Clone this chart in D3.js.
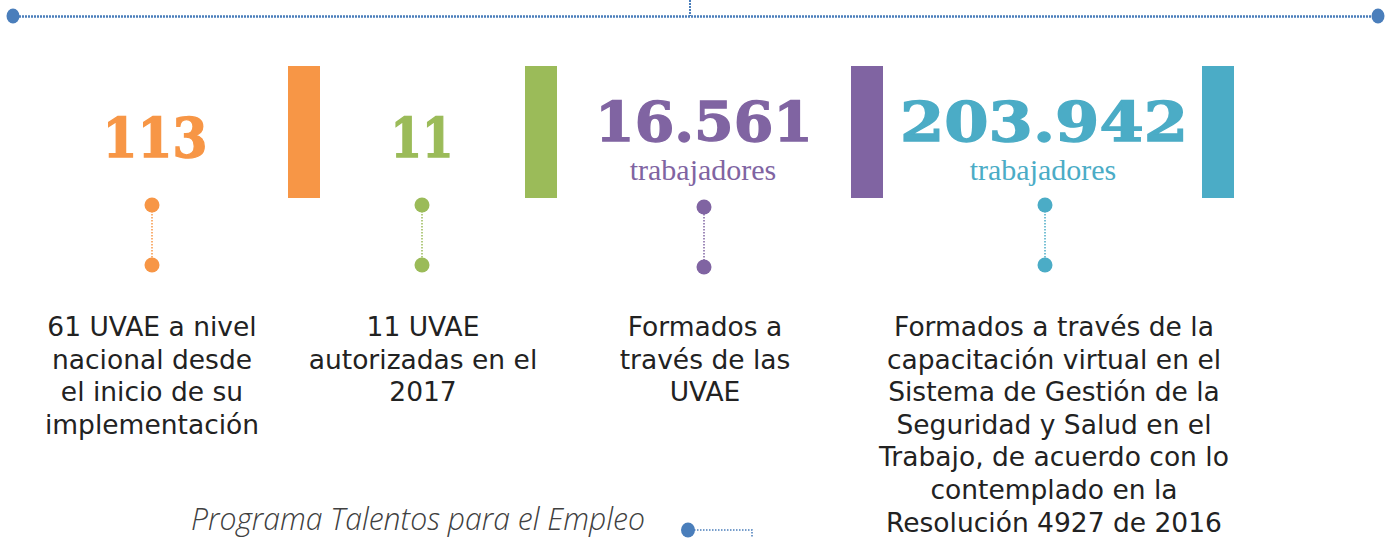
<!DOCTYPE html>
<head>
<meta charset="utf-8">
<style>
  body { margin: 0; background: #fff; }
  svg { display: block; }
  .num { font-family: "DejaVu Serif", serif; font-weight: bold; }
  .unit { font-family: "Liberation Serif", serif; }
  .desc { font-family: "DejaVu Sans", sans-serif; fill: #222; }
  .prog { font-family: "Open Sans", sans-serif; font-style: italic; font-weight: 300; fill: #404040; }
</style>
</head>
<body>
<div class="infografia"></div>
<script src="https://cdnjs.cloudflare.com/ajax/libs/d3/7.8.5/d3.min.js"></script>
<script type="text/javascript">

// datos
var keys = ["uvae", "autorizadas", "formados", "virtual"];
var values = ["113", "11", "16.561", "203.942"];
var units = ["", "", "trabajadores", "trabajadores"];
var descriptions = [
  ["61 UVAE a nivel", "nacional desde", "el inicio de su", "implementación"],
  ["11 UVAE", "autorizadas en el", "2017"],
  ["Formados a", "través de las", "UVAE"],
  ["Formados a través de la", "capacitación virtual en el", "Sistema de Gestión de la",
   "Seguridad y Salud en el", "Trabajo, de acuerdo con lo", "contemplado en la",
   "Resolución 4927 de 2016"]
];
var programTitle = "Programa Talentos para el Empleo";

var colorHold = ["#F79646", "#9BBB59", "#8064A2", "#4BACC6"];
var lineBlue = "#4A7EBB";

var width = 1396, height = 538;

// layout (column centres, separator bars, number widths)
var colX = d3.scaleOrdinal().domain(keys).range([155, 422, 704, 1044]);
var stemX = d3.scaleOrdinal().domain(keys).range([152, 422, 704, 1045]);
var textX = d3.scaleOrdinal().domain(keys).range([152, 423, 705, 1054]);
var barX = d3.scaleOrdinal().domain(keys).range([288, 525, 851, 1202]);
var numBase = d3.scaleOrdinal().domain(keys).range([157, 157, 141, 141]);
var numWidth = d3.scaleOrdinal().domain(keys).range([105, 63, 218, 288]);
var color = d3.scaleOrdinal().domain(keys).range(colorHold);

var data = keys.map(function(k, i) {
  return { key: k, value: values[i], unit: units[i], desc: descriptions[i] };
});

var svg = d3.select(".infografia").append("svg")
  .attr("width", width)
  .attr("height", height);

// top dotted connector
var topG = svg.append("g").attr("class", "top");
topG.append("line")
  .attr("x1", 13).attr("x2", 1378).attr("y1", 16.5).attr("y2", 16.5)
  .attr("stroke", lineBlue).attr("stroke-width", 2.5).attr("stroke-dasharray", "2,1");
topG.append("line")
  .attr("x1", 690).attr("x2", 690).attr("y1", 0).attr("y2", 16)
  .attr("stroke", lineBlue).attr("stroke-width", 2).attr("stroke-dasharray", "2,1");
topG.selectAll("ellipse").data([13, 1378]).enter().append("ellipse")
  .attr("cx", function(d) { return d; }).attr("cy", 16)
  .attr("rx", 6.5).attr("ry", 7.5)
  .attr("fill", lineBlue);

var cols = svg.selectAll("g.col")
  .data(data)
  .enter().append("g")
  .attr("class", "col");

// separator bars
cols.append("rect")
  .attr("x", function(d) { return barX(d.key); })
  .attr("y", 66)
  .attr("width", 32)
  .attr("height", 132)
  .attr("fill", function(d) { return color(d.key); });

// big numbers
cols.append("text")
  .attr("class", "num")
  .attr("x", function(d) { return colX(d.key); })
  .attr("y", function(d) { return numBase(d.key); })
  .attr("text-anchor", "middle")
  .attr("font-size", "55px")
  .attr("textLength", function(d) { return numWidth(d.key); })
  .attr("lengthAdjust", "spacingAndGlyphs")
  .attr("fill", function(d) { return color(d.key); })
  .attr("stroke", function(d) { return color(d.key); })
  .attr("stroke-width", 1.4)
  .text(function(d) { return d.value; });

cols.filter(function(d) { return d.unit; }).append("text")
  .attr("class", "unit")
  .attr("x", function(d) { return colX(d.key) - 1; })
  .attr("y", 180)
  .attr("text-anchor", "middle")
  .attr("font-size", "30px")
  .attr("fill", function(d) { return color(d.key); })
  .text(function(d) { return d.unit; });

// dotted stems
cols.append("line")
  .attr("x1", function(d) { return stemX(d.key); })
  .attr("x2", function(d) { return stemX(d.key); })
  .attr("y1", 205).attr("y2", 265)
  .attr("stroke", function(d) { return color(d.key); })
  .attr("stroke-width", 1.5)
  .attr("stroke-dasharray", "1.5,1.5");

cols.selectAll("circle")
  .data(function(d) { return [{ key: d.key, y: 205 }, { key: d.key, y: 265 }]; })
  .enter().append("circle")
  .attr("cx", function(d) { return stemX(d.key); })
  .attr("cy", function(d) { return d.key == "formados" ? d.y + 2 : d.y; })
  .attr("r", 7.5)
  .attr("fill", function(d) { return color(d.key); });

// descriptions
cols.append("text")
  .attr("class", "desc")
  .attr("text-anchor", "middle")
  .attr("font-size", "26.5px")
  .selectAll("tspan")
  .data(function(d) { return d.desc.map(function(t) { return { key: d.key, t: t }; }); })
  .enter().append("tspan")
  .attr("x", function(d) { return textX(d.key); })
  .attr("y", function(d, i) { return 336 + i * 32.6; })
  .text(function(d) { return d.t; });

// bottom heading
var bottom = svg.append("g").attr("class", "bottom");
bottom.append("text")
  .attr("class", "prog")
  .attr("x", 191)
  .attr("y", 530)
  .attr("font-size", "31px")
  .attr("textLength", 454)
  .attr("lengthAdjust", "spacingAndGlyphs")
  .text(programTitle);
bottom.append("path")
  .attr("d", "M688,530H752V538")
  .attr("fill", "none")
  .attr("stroke", lineBlue).attr("stroke-width", 1.5).attr("stroke-dasharray", "1.5,1.5");
bottom.append("ellipse")
  .attr("cx", 688).attr("cy", 530).attr("rx", 7).attr("ry", 7.5)
  .attr("fill", lineBlue);

</script>
</body>
